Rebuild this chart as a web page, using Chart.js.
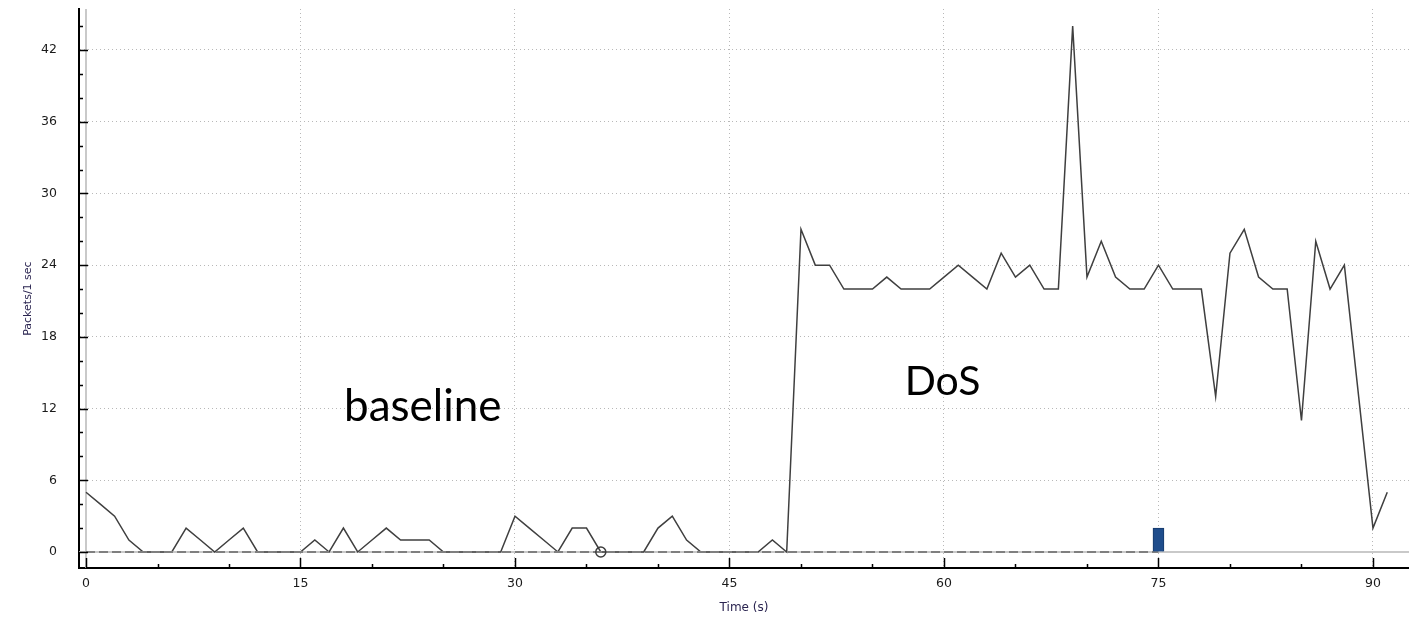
<!DOCTYPE html>
<html>
<head>
<meta charset="utf-8">
<title>IO graph - packets per second</title>
<script src="https://cdn.jsdelivr.net/npm/chart.js@4.4.1/dist/chart.umd.min.js"></script>
<style>
  html, body { margin: 0; padding: 0; background: #fff; }
  #wrap { width: 1409px; height: 622px; }
</style>
</head>
<body>
<div id="wrap"><canvas id="ioChart" width="1409" height="622"></canvas></div>
<script>
// Time axis (seconds) and packets counted in each 1 s interval
const seconds = [
  0, 1, 2, 3, 4, 5, 6, 7, 8, 9, 10, 11, 12, 13, 14, 15, 16, 17, 18, 19,
  20, 21, 22, 23, 24, 25, 26, 27, 28, 29, 30, 31, 32, 33, 34, 35, 36, 37, 38, 39,
  40, 41, 42, 43, 44, 45, 46, 47, 48, 49, 50, 51, 52, 53, 54, 55, 56, 57, 58, 59,
  60, 61, 62, 63, 64, 65, 66, 67, 68, 69, 70, 71, 72, 73, 74, 75, 76, 77, 78, 79,
  80, 81, 82, 83, 84, 85, 86, 87, 88, 89, 90, 91
];
const packets = [
  5, 4, 3, 1, 0, 0, 0, 2, 1, 0, 1, 2, 0, 0, 0, 0, 1, 0, 2, 0,
  1, 2, 1, 1, 1, 0, 0, 0, 0, 0, 3, 2, 1, 0, 2, 2, 0, 0, 0, 0,
  2, 3, 1, 0, 0, 0, 0, 0, 1, 0, 27, 24, 24, 22, 22, 22, 23, 22, 22, 22,
  23, 24, 23, 22, 25, 23, 24, 22, 22, 44, 23, 26, 23, 22, 22, 24, 22, 22, 22, 13,
  25, 27, 23, 22, 22, 11, 26, 22, 24, 13, 2, 5
];

// Second (dashed) graph, the small bar and the marked packet
const dashSeconds = [0, 75];
const dashValues = [0, 0];
const barSeconds = [75];
const barValues = [2];
const markerSeconds = [36];
const markerValues = [0];

// Tick labels and the small unlabeled ticks
const xTicks = [0, 15, 30, 45, 60, 75, 90];
const xMinorTicks = [5, 10, 20, 25, 35, 40, 50, 55, 65, 70, 80, 85];
const yTicks = [0, 6, 12, 18, 24, 30, 36, 42];
const yMinorTicks = [2, 4, 8, 10, 14, 16, 20, 22, 26, 28, 32, 34, 38, 40, 44];

function toPoints(xs, ys) {
  return xs.map((x, i) => ({ x: x, y: ys[i] }));
}

// Zero lines, inward tick marks, y title and the two text notes
const ioExtras = {
  id: 'ioExtras',
  beforeDatasetsDraw(chart) {
    const { ctx, chartArea, scales: { x, y } } = chart;
    ctx.save();
    ctx.strokeStyle = '#c9c9c9';
    ctx.lineWidth = 2;
    const x0 = Math.round(x.getPixelForValue(0));
    const y0 = Math.round(y.getPixelForValue(0));
    ctx.beginPath();
    ctx.moveTo(x0, chartArea.top);
    ctx.lineTo(x0, chartArea.bottom);
    ctx.moveTo(chartArea.left, y0);
    ctx.lineTo(chartArea.right, y0);
    ctx.stroke();
    ctx.restore();
  },
  afterDatasetsDraw(chart) {
    const { ctx, scales: { x, y } } = chart;
    ctx.save();
    ctx.fillStyle = '#000';
    ctx.textAlign = 'center';
    ctx.textBaseline = 'alphabetic';
    ctx.font = '44px Lato, "Open Sans", sans-serif';
    ctx.fillText('baseline', x.getPixelForValue(23.55), y.getPixelForValue(11));
    ctx.font = '41px Lato, "Open Sans", sans-serif';
    ctx.fillText('DoS', x.getPixelForValue(59.9), y.getPixelForValue(13.1));
    ctx.restore();
  },
  afterDraw(chart) {
    const { ctx, chartArea, scales: { x, y } } = chart;
    ctx.save();
    ctx.strokeStyle = '#000';
    ctx.lineWidth = 1.5;
    ctx.beginPath();
    const xTick = (v, len) => {
      const px = Math.round(x.getPixelForValue(v)) + 0.5;
      ctx.moveTo(px, chartArea.bottom);
      ctx.lineTo(px, chartArea.bottom - len);
    };
    const yTick = (v, len) => {
      const py = Math.round(y.getPixelForValue(v)) + 0.5;
      ctx.moveTo(chartArea.left, py);
      ctx.lineTo(chartArea.left + len, py);
    };
    xTicks.forEach(v => xTick(v, 10));
    xMinorTicks.forEach(v => xTick(v, 4));
    yTicks.forEach(v => yTick(v, 9));
    yMinorTicks.forEach(v => yTick(v, 4));
    ctx.stroke();

    // y axis title sits a little below the middle of the plot
    ctx.translate(28, y.getPixelForValue(21.2));
    ctx.rotate(-Math.PI / 2);
    ctx.fillStyle = '#2a2450';
    ctx.font = '11px "DejaVu Sans", sans-serif';
    ctx.textAlign = 'center';
    ctx.textBaseline = 'middle';
    ctx.fillText('Packets/1 sec', 0, 0);
    ctx.restore();
  }
};

const tickFont = { family: '"DejaVu Sans", sans-serif', size: 12.5 };
const gridColor = (c) => (c.tick && c.tick.value === 0 ? 'rgba(0,0,0,0)' : '#b8b8b8');

new Chart(document.getElementById('ioChart'), {
  type: 'line',
  data: {
    datasets: [
      {
        label: 'Marked packet',
        data: toPoints(markerSeconds, markerValues),
        showLine: false,
        pointRadius: 5,
        pointBorderWidth: 1.5,
        pointBorderColor: '#3c3c3c',
        pointBackgroundColor: 'rgba(0,0,0,0)',
        order: 0
      },
      {
        type: 'bar',
        label: 'Bar',
        data: toPoints(barSeconds, barValues),
        backgroundColor: '#1f4d8c',
        borderColor: '#163a6a',
        borderWidth: 1,
        barThickness: 11,
        order: 1
      },
      {
        label: 'Dashed',
        data: toPoints(dashSeconds, dashValues),
        borderColor: '#7f7f7f',
        borderWidth: 2,
        borderDash: [9, 4],
        pointRadius: 0,
        fill: false,
        order: 2
      },
      {
        label: 'Packets/1 sec',
        data: toPoints(seconds, packets),
        borderColor: '#3f3f3f',
        borderWidth: 1.5,
        pointRadius: 0,
        tension: 0,
        fill: false,
        order: 3
      }
    ]
  },
  options: {
    responsive: false,
    animation: false,
    layout: { autoPadding: false, padding: { top: 9, right: 0, bottom: 0, left: 0 } },
    plugins: {
      legend: { display: false },
      tooltip: { enabled: false }
    },
    scales: {
      x: {
        type: 'linear',
        min: -0.49,
        max: 92.52,
        offset: false,
        afterBuildTicks: (scale) => { scale.ticks = xTicks.map(v => ({ value: v })); },
        afterFit: (scale) => {
          scale.height = 54;
          scale.paddingLeft = 0;
          scale.paddingRight = 0;
        },
        ticks: { font: tickFont, color: '#1a1a1a', padding: 0, autoSkip: false, maxRotation: 0 },
        grid: {
          color: gridColor,
          lineWidth: 1,
          drawTicks: true,
          tickLength: 8,
          tickColor: 'rgba(0,0,0,0)',
          offset: false
        },
        border: { display: true, color: '#000', width: 2, dash: [1, 3] },
        title: {
          display: true,
          text: 'Time (s)',
          color: '#2a2450',
          font: { family: '"DejaVu Sans", sans-serif', size: 12 },
          padding: { top: 0, bottom: 7 }
        }
      },
      y: {
        type: 'linear',
        min: -1.34,
        max: 45.43,
        afterBuildTicks: (scale) => { scale.ticks = yTicks.map(v => ({ value: v })); },
        afterFit: (scale) => { scale.width = 79; },
        ticks: { font: tickFont, color: '#1a1a1a', padding: 0 },
        grid: {
          color: gridColor,
          lineWidth: 1,
          drawTicks: true,
          tickLength: 22,
          tickColor: 'rgba(0,0,0,0)'
        },
        border: { display: true, color: '#000', width: 2, dash: [1, 3] },
        title: { display: false }
      }
    }
  },
  plugins: [ioExtras]
});
</script>
</body>
</html>
